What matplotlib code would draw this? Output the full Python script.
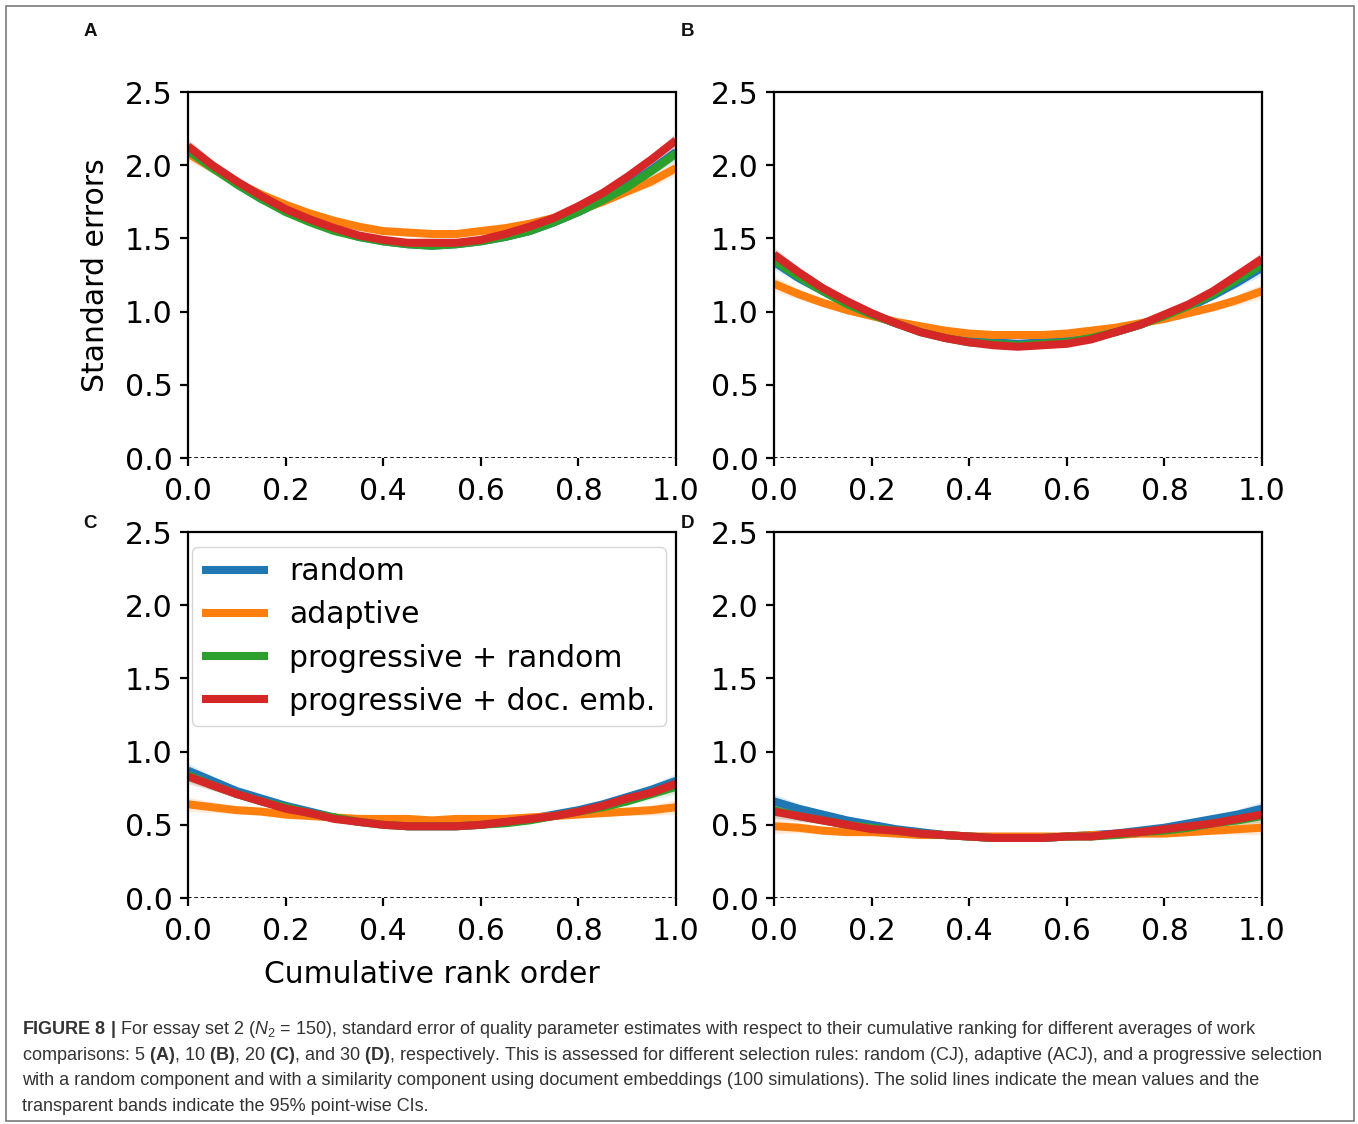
import matplotlib
matplotlib.use("Agg")
import matplotlib.pyplot as plt
from matplotlib.patches import Rectangle

W, H = 1358, 1124

# cumulative rank order grid (x) shared by all curves
rank = [0.0, 0.05, 0.1, 0.15, 0.2, 0.25, 0.3, 0.35, 0.4, 0.45, 0.5,
        0.55, 0.6, 0.65, 0.7, 0.75, 0.8, 0.85, 0.9, 0.95, 1.0]

labels = ["random", "adaptive", "progressive + random", "progressive + doc. emb."]
colors = ["#1f77b4", "#ff7f0e", "#2ca02c", "#d62728"]

# A: 5 comparisons
random_a = [2.11, 1.99, 1.87, 1.77, 1.69, 1.62, 1.56, 1.51, 1.48, 1.46, 1.45,
            1.46, 1.48, 1.51, 1.55, 1.61, 1.68, 1.76, 1.86, 1.97, 2.09]
adaptive_a = [2.08, 1.98, 1.88, 1.80, 1.73, 1.67, 1.62, 1.58, 1.55, 1.54, 1.53,
              1.53, 1.55, 1.57, 1.60, 1.64, 1.69, 1.75, 1.82, 1.89, 1.98]
prog_rand_a = [2.10, 1.98, 1.87, 1.77, 1.68, 1.61, 1.55, 1.51, 1.48, 1.46, 1.45,
               1.46, 1.48, 1.51, 1.55, 1.61, 1.68, 1.76, 1.85, 1.96, 2.08]
prog_doc_a = [2.13, 2.00, 1.89, 1.79, 1.70, 1.63, 1.57, 1.52, 1.49, 1.47, 1.47,
              1.47, 1.49, 1.53, 1.58, 1.64, 1.72, 1.81, 1.92, 2.04, 2.17]

# B: 10 comparisons
random_b = [1.34, 1.23, 1.14, 1.05, 0.98, 0.92, 0.87, 0.83, 0.80, 0.79, 0.78,
            0.79, 0.80, 0.83, 0.86, 0.91, 0.97, 1.03, 1.11, 1.20, 1.30]
adaptive_b = [1.19, 1.12, 1.06, 1.01, 0.97, 0.93, 0.90, 0.87, 0.85, 0.84, 0.84,
              0.84, 0.85, 0.87, 0.89, 0.92, 0.95, 0.99, 1.03, 1.08, 1.14]
prog_rand_b = [1.35, 1.24, 1.14, 1.05, 0.98, 0.92, 0.86, 0.82, 0.79, 0.78, 0.77,
               0.78, 0.79, 0.82, 0.86, 0.91, 0.97, 1.04, 1.12, 1.22, 1.32]
prog_doc_b = [1.39, 1.27, 1.16, 1.07, 0.99, 0.92, 0.86, 0.82, 0.79, 0.77, 0.76,
              0.77, 0.78, 0.81, 0.86, 0.91, 0.98, 1.05, 1.14, 1.25, 1.36]

# C: 20 comparisons
random_c = [0.87, 0.80, 0.73, 0.68, 0.63, 0.59, 0.55, 0.52, 0.51, 0.49, 0.49,
            0.49, 0.50, 0.52, 0.54, 0.57, 0.60, 0.64, 0.69, 0.74, 0.80]
adaptive_c = [0.64, 0.62, 0.60, 0.59, 0.57, 0.56, 0.55, 0.54, 0.54, 0.54, 0.53,
              0.54, 0.54, 0.54, 0.55, 0.56, 0.57, 0.58, 0.59, 0.60, 0.62]
prog_rand_c = [0.84, 0.77, 0.71, 0.66, 0.62, 0.58, 0.55, 0.52, 0.50, 0.49, 0.49,
               0.49, 0.50, 0.51, 0.53, 0.56, 0.59, 0.62, 0.66, 0.71, 0.76]
prog_doc_c = [0.83, 0.77, 0.71, 0.66, 0.61, 0.58, 0.54, 0.52, 0.50, 0.49, 0.49,
              0.49, 0.50, 0.52, 0.54, 0.56, 0.59, 0.63, 0.68, 0.72, 0.78]

# D: 30 comparisons
random_d = [0.66, 0.61, 0.57, 0.53, 0.50, 0.47, 0.45, 0.43, 0.42, 0.41, 0.41,
            0.41, 0.42, 0.43, 0.44, 0.46, 0.48, 0.51, 0.54, 0.57, 0.61]
adaptive_d = [0.49, 0.48, 0.46, 0.45, 0.45, 0.44, 0.43, 0.43, 0.42, 0.42, 0.42,
              0.42, 0.42, 0.43, 0.43, 0.44, 0.44, 0.45, 0.46, 0.47, 0.48]
prog_rand_d = [0.60, 0.56, 0.53, 0.50, 0.48, 0.46, 0.44, 0.43, 0.42, 0.41, 0.41,
               0.41, 0.42, 0.42, 0.43, 0.45, 0.46, 0.48, 0.51, 0.53, 0.56]
prog_doc_d = [0.59, 0.56, 0.53, 0.50, 0.47, 0.46, 0.44, 0.43, 0.42, 0.41, 0.41,
              0.41, 0.42, 0.42, 0.44, 0.45, 0.47, 0.49, 0.51, 0.54, 0.57]

# half width of the 95% point-wise CI band (widest at the ends)
ci_half = [0.05, 0.035, 0.025, 0.02, 0.015, 0.012, 0.01, 0.01, 0.01, 0.01, 0.01,
           0.01, 0.01, 0.01, 0.01, 0.012, 0.015, 0.02, 0.025, 0.035, 0.05]

yticks = [0.0, 0.5, 1.0, 1.5, 2.0, 2.5]
xticks = [0.0, 0.2, 0.4, 0.6, 0.8, 1.0]

panels = [
    ("A", [random_a, adaptive_a, prog_rand_a, prog_doc_a], (188, 92)),
    ("B", [random_b, adaptive_b, prog_rand_b, prog_doc_b], (774, 92)),
    ("C", [random_c, adaptive_c, prog_rand_c, prog_doc_c], (188, 532)),
    ("D", [random_d, adaptive_d, prog_rand_d, prog_doc_d], (774, 532)),
]
letter_pos = {"A": (90, 31), "B": (688, 31), "C": (90, 524), "D": (688, 524)}

plt.rcParams["mathtext.fontset"] = "custom"
plt.rcParams["mathtext.rm"] = "Liberation Sans"
plt.rcParams["mathtext.bf"] = "Liberation Sans:bold"
plt.rcParams["mathtext.it"] = "Liberation Sans:italic"

fig = plt.figure(figsize=(W / 100, H / 100), dpi=100)
fig.patches.append(Rectangle((6 / W, 3 / H), 1348 / W, 1115 / H, transform=fig.transFigure,
                             fill=False, edgecolor="#7a7a7a", lw=1.2))

tick_fs = 21.5
for name, series, (px, py) in panels:
    ax = fig.add_axes([px / W, 1 - (py + 366) / H, 488 / W, 366 / H])
    for vals, lab, col in zip(series, labels, colors):
        lo = [v - c for v, c in zip(vals, ci_half)]
        hi = [v + c for v, c in zip(vals, ci_half)]
        ax.fill_between(rank, lo, hi, color=col, alpha=0.15, lw=0)
        ax.plot(rank, vals, color=col, lw=5.8, label=lab, solid_capstyle="butt")
    ax.axhline(0, color="k", ls=(0, (2, 1.5)), lw=1.3)
    ax.set_xlim(0, 1)
    ax.set_ylim(0, 2.5)
    ax.set_xticks(xticks)
    ax.set_yticks(yticks)
    ax.spines["bottom"].set_visible(False)
    for s in ["left", "top", "right"]:
        ax.spines[s].set_linewidth(1.6)
    ax.tick_params(labelsize=tick_fs, length=6, width=1.6)
    ax.tick_params(axis="x", pad=8)
    ax.tick_params(axis="y", pad=5)
    if name == "A":
        ax.set_ylabel("Standard errors", fontsize=tick_fs, labelpad=11)
    if name == "C":
        ax.set_xlabel("Cumulative rank order", fontsize=tick_fs, labelpad=10)
        ax.legend(loc="upper left", bbox_to_anchor=(0.008, 0.959), borderaxespad=0,
                  fontsize=tick_fs, handlelength=2.2, labelspacing=0.47,
                  borderpad=0.35, handletextpad=0.7)
    lx, ly = letter_pos[name]
    fig.text(lx / W, 1 - ly / H, name, ha="center", va="center", fontsize=13.5,
             fontweight="bold", family="Liberation Sans", color="#111")

caption = [
    r"$\mathbf{FIGURE\ 8\ |}$ For essay set 2 ($N_2$ = 150), standard error of quality parameter "
    r"estimates with respect to their cumulative ranking for different averages of work",
    r"comparisons: 5 $\mathbf{(A)}$, 10 $\mathbf{(B)}$, 20 $\mathbf{(C)}$, and 30 $\mathbf{(D)}$, "
    r"respectively. This is assessed for different selection rules: random (CJ), adaptive (ACJ), "
    r"and a progressive selection",
    "with a random component and with a similarity component using document embeddings "
    "(100 simulations). The solid lines indicate the mean values and the",
    "transparent bands indicate the 95% point-wise CIs.",
]
for i, line in enumerate(caption):
    fig.text(22 / W, 1 - (1030 + 25.4 * i) / H, line, ha="left", va="center",
             fontsize=13, family="Liberation Sans", color="#333333")

fig.savefig("out.png", dpi=100)
